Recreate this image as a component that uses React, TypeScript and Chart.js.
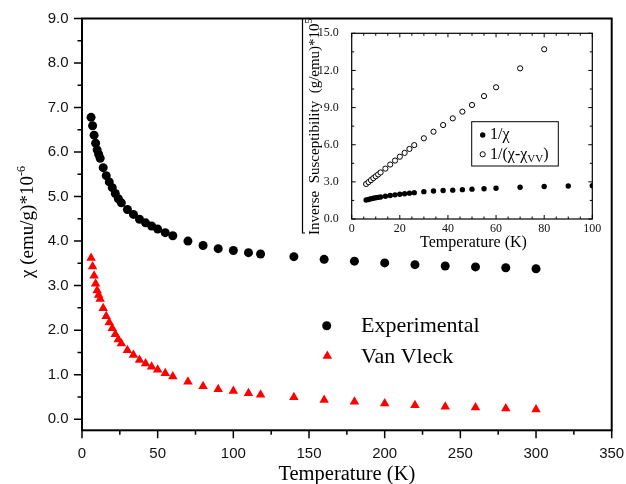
import React, { useEffect, useRef } from 'react';
import { Chart, registerables } from 'chart.js';

Chart.register(...registerables);

// Temperature (K) of each susceptibility measurement
const temperatureK = [
  6, 7, 8, 9, 10, 11, 12, 14, 16, 18, 20, 22, 24, 26, 30, 34, 38, 42, 46, 50, 55, 60,
  70, 80, 90, 100, 110, 118, 140, 160, 180, 200, 220, 240, 260, 280, 300,
];
// Measured susceptibility, emu/g ×10^-6
const chiExperimental = [
  6.78, 6.59, 6.38, 6.2, 6.05, 5.95, 5.86, 5.65, 5.47, 5.33, 5.2, 5.07, 4.95, 4.86, 4.71,
  4.6, 4.49, 4.41, 4.34, 4.27, 4.19, 4.12, 4.0, 3.9, 3.83, 3.79, 3.74, 3.71, 3.65, 3.59,
  3.55, 3.51, 3.47, 3.44, 3.42, 3.4, 3.38,
];
// Van Vleck series, emu/g ×10^-6
const chiVanVleck = [
  3.62, 3.43, 3.22, 3.04, 2.89, 2.79, 2.7, 2.49, 2.31, 2.17, 2.04, 1.91, 1.79, 1.7, 1.55,
  1.44, 1.33, 1.25, 1.18, 1.11, 1.03, 0.96, 0.84, 0.74, 0.67, 0.63, 0.58, 0.55, 0.49, 0.43,
  0.39, 0.35, 0.31, 0.28, 0.26, 0.24, 0.22,
];

// Inset: inverse susceptibility, (g/emu) ×10^5
const insetTempFilled = [
  6, 7, 8, 9, 10, 11, 12, 14, 16, 18, 20, 22, 24, 26, 30, 34, 38, 42, 46, 50, 55, 60, 70, 80, 90, 100,
];
const inverseChi = [
  1.53, 1.58, 1.63, 1.68, 1.72, 1.75, 1.78, 1.84, 1.9, 1.95, 2.0, 2.04, 2.09, 2.13, 2.21,
  2.26, 2.3, 2.33, 2.37, 2.41, 2.44, 2.48, 2.56, 2.62, 2.67, 2.69,
];
const insetTempOpen = [
  6, 7, 8, 9, 10, 11, 12, 14, 16, 18, 20, 22, 24, 26, 30, 34, 38, 42, 46, 50, 55, 60, 70, 80,
];
const inverseChiCorrected = [
  2.83, 2.98, 3.14, 3.3, 3.45, 3.6, 3.76, 4.07, 4.4, 4.72, 5.03, 5.34, 5.66, 5.97, 6.52,
  7.05, 7.59, 8.13, 8.67, 9.21, 9.93, 10.64, 12.17, 13.71,
];

// Axis tick labels
const mainXTicks = [0, 50, 100, 150, 200, 250, 300, 350];
const mainYTicks = [0, 1, 2, 3, 4, 5, 6, 7, 8, 9];
const insetXTicks = [0, 20, 40, 60, 80, 100];
const insetYTicks = [0, 3, 6, 9, 12, 15];

const SERIF = '"Liberation Serif", "Times New Roman", serif';
const SANS = '"Liberation Sans", Arial, sans-serif';

type Piece = { text: string; size: number; dy: number };

function drawPieces(
  ctx: CanvasRenderingContext2D,
  x: number,
  y: number,
  pieces: Piece[],
  align: 'left' | 'center',
  rotated: boolean
) {
  ctx.save();
  ctx.translate(x, y);
  if (rotated) ctx.rotate(-Math.PI / 2);
  ctx.textBaseline = 'alphabetic';
  ctx.textAlign = 'left';
  ctx.fillStyle = '#000';
  const widths = pieces.map((p) => {
    ctx.font = `${p.size}px ${SERIF}`;
    return ctx.measureText(p.text).width;
  });
  const total = widths.reduce((s, w) => s + w, 0);
  let cx = align === 'center' ? -total / 2 : 0;
  pieces.forEach((p, i) => {
    ctx.font = `${p.size}px ${SERIF}`;
    ctx.fillText(p.text, cx, p.dy);
    cx += widths[i];
  });
  ctx.restore();
}

function steps(min: number, max: number, step: number) {
  const out: number[] = [];
  for (let i = 0; min + i * step <= max + 1e-9; i++) out.push(+(min + i * step).toFixed(4));
  return out;
}

function toPoints(xs: number[], ys: number[]) {
  return xs.map((x, i) => ({ x, y: ys[i] }));
}

const mainDecor = {
  id: 'mainDecor',
  afterDraw(chart: any) {
    const { ctx, chartArea: a } = chart;
    const xs = chart.scales.x;
    const ys = chart.scales.y;
    ctx.save();
    ctx.strokeStyle = '#000';
    ctx.lineWidth = 2;
    ctx.strokeRect(a.left, a.top, a.right - a.left, a.bottom - a.top);
    ctx.lineWidth = 1.5;
    ctx.beginPath();
    for (const v of steps(0, 9, 0.5)) {
      const py = ys.getPixelForValue(v);
      const len = Number.isInteger(v) ? 8 : 4.5;
      ctx.moveTo(a.left, py);
      ctx.lineTo(a.left - len, py);
    }
    for (const v of steps(0, 350, 25)) {
      const px = xs.getPixelForValue(v);
      const len = v % 50 === 0 ? 8 : 4.5;
      ctx.moveTo(px, a.bottom);
      ctx.lineTo(px, a.bottom + len);
    }
    ctx.stroke();

    // axis titles
    drawPieces(ctx, (a.left + a.right) / 2, 480, [{ text: 'Temperature (K)', size: 20.5, dy: 0 }], 'center', false);
    drawPieces(
      ctx,
      33,
      222,
      [
        { text: 'χ (emu/g)*10', size: 19, dy: 0 },
        { text: '-6', size: 12, dy: -8 },
      ],
      'center',
      true
    );

    // legend
    ctx.fillStyle = '#000';
    ctx.beginPath();
    ctx.arc(326.7, 325.7, 4.5, 0, Math.PI * 2);
    ctx.fill();
    ctx.fillStyle = '#ff0000';
    const r = 5.5;
    const tx = 327.3;
    const ty = 356;
    ctx.beginPath();
    ctx.moveTo(tx, ty - r);
    ctx.lineTo(tx + r * Math.sin((2 * Math.PI) / 3), ty - r * Math.cos((2 * Math.PI) / 3));
    ctx.lineTo(tx + r * Math.sin((4 * Math.PI) / 3), ty - r * Math.cos((4 * Math.PI) / 3));
    ctx.closePath();
    ctx.fill();
    drawPieces(ctx, 361, 332, [{ text: 'Experimental', size: 22, dy: 0 }], 'left', false);
    drawPieces(ctx, 361, 362.7, [{ text: 'Van Vleck', size: 22, dy: 0 }], 'left', false);
    ctx.restore();
  },
};

const insetDecor = {
  id: 'insetDecor',
  afterDraw(chart: any) {
    const { ctx, chartArea: a } = chart;
    const xs = chart.scales.x;
    const ys = chart.scales.y;
    ctx.save();
    ctx.strokeStyle = '#000';
    // outer frame edge of the inset panel
    ctx.lineWidth = 1.2;
    ctx.beginPath();
    ctx.moveTo(1.5, 0);
    ctx.lineTo(1.5, 214);
    ctx.lineTo(4, 214);
    ctx.stroke();
    // plot box
    ctx.lineWidth = 1.2;
    ctx.strokeRect(a.left, a.top, a.right - a.left, a.bottom - a.top);
    ctx.lineWidth = 1;
    ctx.beginPath();
    for (const v of steps(0, 15, 1.5)) {
      const py = ys.getPixelForValue(v);
      const len = v % 3 === 0 ? 4 : 2.5;
      ctx.moveTo(a.left, py);
      ctx.lineTo(a.left + len, py);
      ctx.moveTo(a.right, py);
      ctx.lineTo(a.right - len, py);
    }
    for (const v of steps(0, 100, 5)) {
      const px = xs.getPixelForValue(v);
      const len = v % 20 === 0 ? 4 : 2.5;
      ctx.moveTo(px, a.bottom);
      ctx.lineTo(px, a.bottom - len);
      ctx.moveTo(px, a.top);
      ctx.lineTo(px, a.top + len);
    }
    ctx.stroke();

    drawPieces(ctx, (a.left + a.right) / 2 + 1.5, 228, [{ text: 'Temperature (K)', size: 16, dy: 0 }], 'center', false);
    drawPieces(
      ctx,
      18,
      107.7,
      [
        { text: 'Inverse  Susceptibility  (g/emu)*10', size: 15, dy: 0 },
        { text: '5', size: 10, dy: -7 },
      ],
      'center',
      true
    );

    // legend
    ctx.lineWidth = 1;
    ctx.strokeRect(170.7, 102.7, 86.6, 44.3);
    ctx.fillStyle = '#000';
    ctx.beginPath();
    ctx.arc(181.7, 116, 2.7, 0, Math.PI * 2);
    ctx.fill();
    ctx.fillStyle = '#fff';
    ctx.beginPath();
    ctx.arc(181.7, 135.3, 2.6, 0, Math.PI * 2);
    ctx.fill();
    ctx.stroke();
    drawPieces(ctx, 189, 120.4, [{ text: '1/χ', size: 16, dy: 0 }], 'left', false);
    drawPieces(
      ctx,
      189,
      140,
      [
        { text: '1/(χ-χ', size: 16, dy: 0 },
        { text: 'VV', size: 11, dy: 3 },
        { text: ')', size: 16, dy: 0 },
      ],
      'left',
      false
    );
    ctx.restore();
  },
};

function fixedTicks(values: number[]) {
  return (scale: any) => {
    scale.ticks = values.map((value) => ({ value }));
  };
}

// Fix a scale's thickness and drop the label overhang padding Chart.js reserves
function fixedSize(prop: 'width' | 'height', size: number) {
  return (s: any) => {
    s[prop] = size;
    s.paddingLeft = 0;
    s.paddingRight = 0;
    s.paddingTop = 0;
    s.paddingBottom = 0;
  };
}

function mainConfig(): any {
  return {
    type: 'scatter',
    data: {
      datasets: [
        {
          label: 'Experimental',
          data: toPoints(temperatureK, chiExperimental),
          pointStyle: 'circle',
          pointRadius: 4.5,
          backgroundColor: '#000',
          borderWidth: 0,
        },
        {
          label: 'Van Vleck',
          data: toPoints(temperatureK, chiVanVleck),
          pointStyle: 'triangle',
          pointRadius: 5.5,
          backgroundColor: '#ff0000',
          borderWidth: 0,
        },
      ],
    },
    options: {
      responsive: false,
      animation: false,
      devicePixelRatio: 1,
      events: [],
      layout: { padding: { top: 18.5, right: 14.3, left: 0, bottom: 0 } },
      plugins: { legend: { display: false }, tooltip: { enabled: false }, title: { display: false } },
      scales: {
        x: {
          type: 'linear',
          min: 0,
          max: 350,
          afterBuildTicks: fixedTicks(mainXTicks),
          afterFit: fixedSize('height', 53.7),
          grid: { display: false, drawTicks: false },
          border: { display: false },
          ticks: {
            padding: 14.5,
            autoSkip: false,
            maxRotation: 0,
            color: '#111',
            font: { family: SANS, size: 15 },
            callback: (v: number) => String(v),
          },
        },
        y: {
          type: 'linear',
          min: -0.25,
          max: 9,
          afterBuildTicks: fixedTicks(mainYTicks),
          afterFit: fixedSize('width', 82),
          grid: { display: false, drawTicks: false },
          border: { display: false },
          ticks: {
            padding: 13.5,
            autoSkip: false,
            color: '#111',
            font: { family: SANS, size: 15 },
            callback: (v: number) => v.toFixed(1),
          },
        },
      },
    },
    plugins: [mainDecor],
  };
}

function insetConfig(): any {
  return {
    type: 'scatter',
    data: {
      datasets: [
        {
          label: '1/χ',
          data: toPoints(insetTempFilled, inverseChi),
          pointStyle: 'circle',
          pointRadius: 2.7,
          backgroundColor: '#000',
          borderWidth: 0,
        },
        {
          label: '1/(χ-χVV)',
          data: toPoints(insetTempOpen, inverseChiCorrected),
          pointStyle: 'circle',
          pointRadius: 2.6,
          backgroundColor: '#fff',
          borderColor: '#000',
          borderWidth: 1,
        },
      ],
    },
    options: {
      responsive: false,
      animation: false,
      devicePixelRatio: 1,
      events: [],
      layout: { padding: { top: 14.3, right: 17.7, left: 0, bottom: 0 } },
      plugins: { legend: { display: false }, tooltip: { enabled: false }, title: { display: false } },
      scales: {
        x: {
          type: 'linear',
          min: 0,
          max: 100,
          afterBuildTicks: fixedTicks(insetXTicks),
          afterFit: fixedSize('height', 36),
          grid: { display: false, drawTicks: false },
          border: { display: false },
          ticks: {
            padding: 2.5,
            autoSkip: false,
            maxRotation: 0,
            color: '#111',
            font: { family: SERIF, size: 12 },
            callback: (v: number) => String(v),
          },
        },
        y: {
          type: 'linear',
          min: 0,
          max: 15,
          afterBuildTicks: fixedTicks(insetYTicks),
          afterFit: fixedSize('width', 50.7),
          grid: { display: false, drawTicks: false },
          border: { display: false },
          ticks: {
            padding: 13,
            autoSkip: false,
            color: '#111',
            font: { family: SERIF, size: 12 },
            callback: (v: number) => v.toFixed(1),
          },
        },
      },
    },
    plugins: [insetDecor],
  };
}

export default function App() {
  const mainRef = useRef<HTMLCanvasElement>(null);
  const insetRef = useRef<HTMLCanvasElement>(null);

  useEffect(() => {
    const main = new Chart(mainRef.current!, mainConfig());
    const inset = new Chart(insetRef.current!, insetConfig());
    return () => {
      main.destroy();
      inset.destroy();
    };
  }, []);

  return (
    <div style={{ position: 'absolute', left: 0, top: 0, width: 626, height: 484, background: '#fff' }}>
      <canvas ref={mainRef} width={626} height={484} style={{ position: 'absolute', left: 0, top: 0 }} />
      <canvas ref={insetRef} width={309} height={236} style={{ position: 'absolute', left: 301, top: 19 }} />
    </div>
  );
}
